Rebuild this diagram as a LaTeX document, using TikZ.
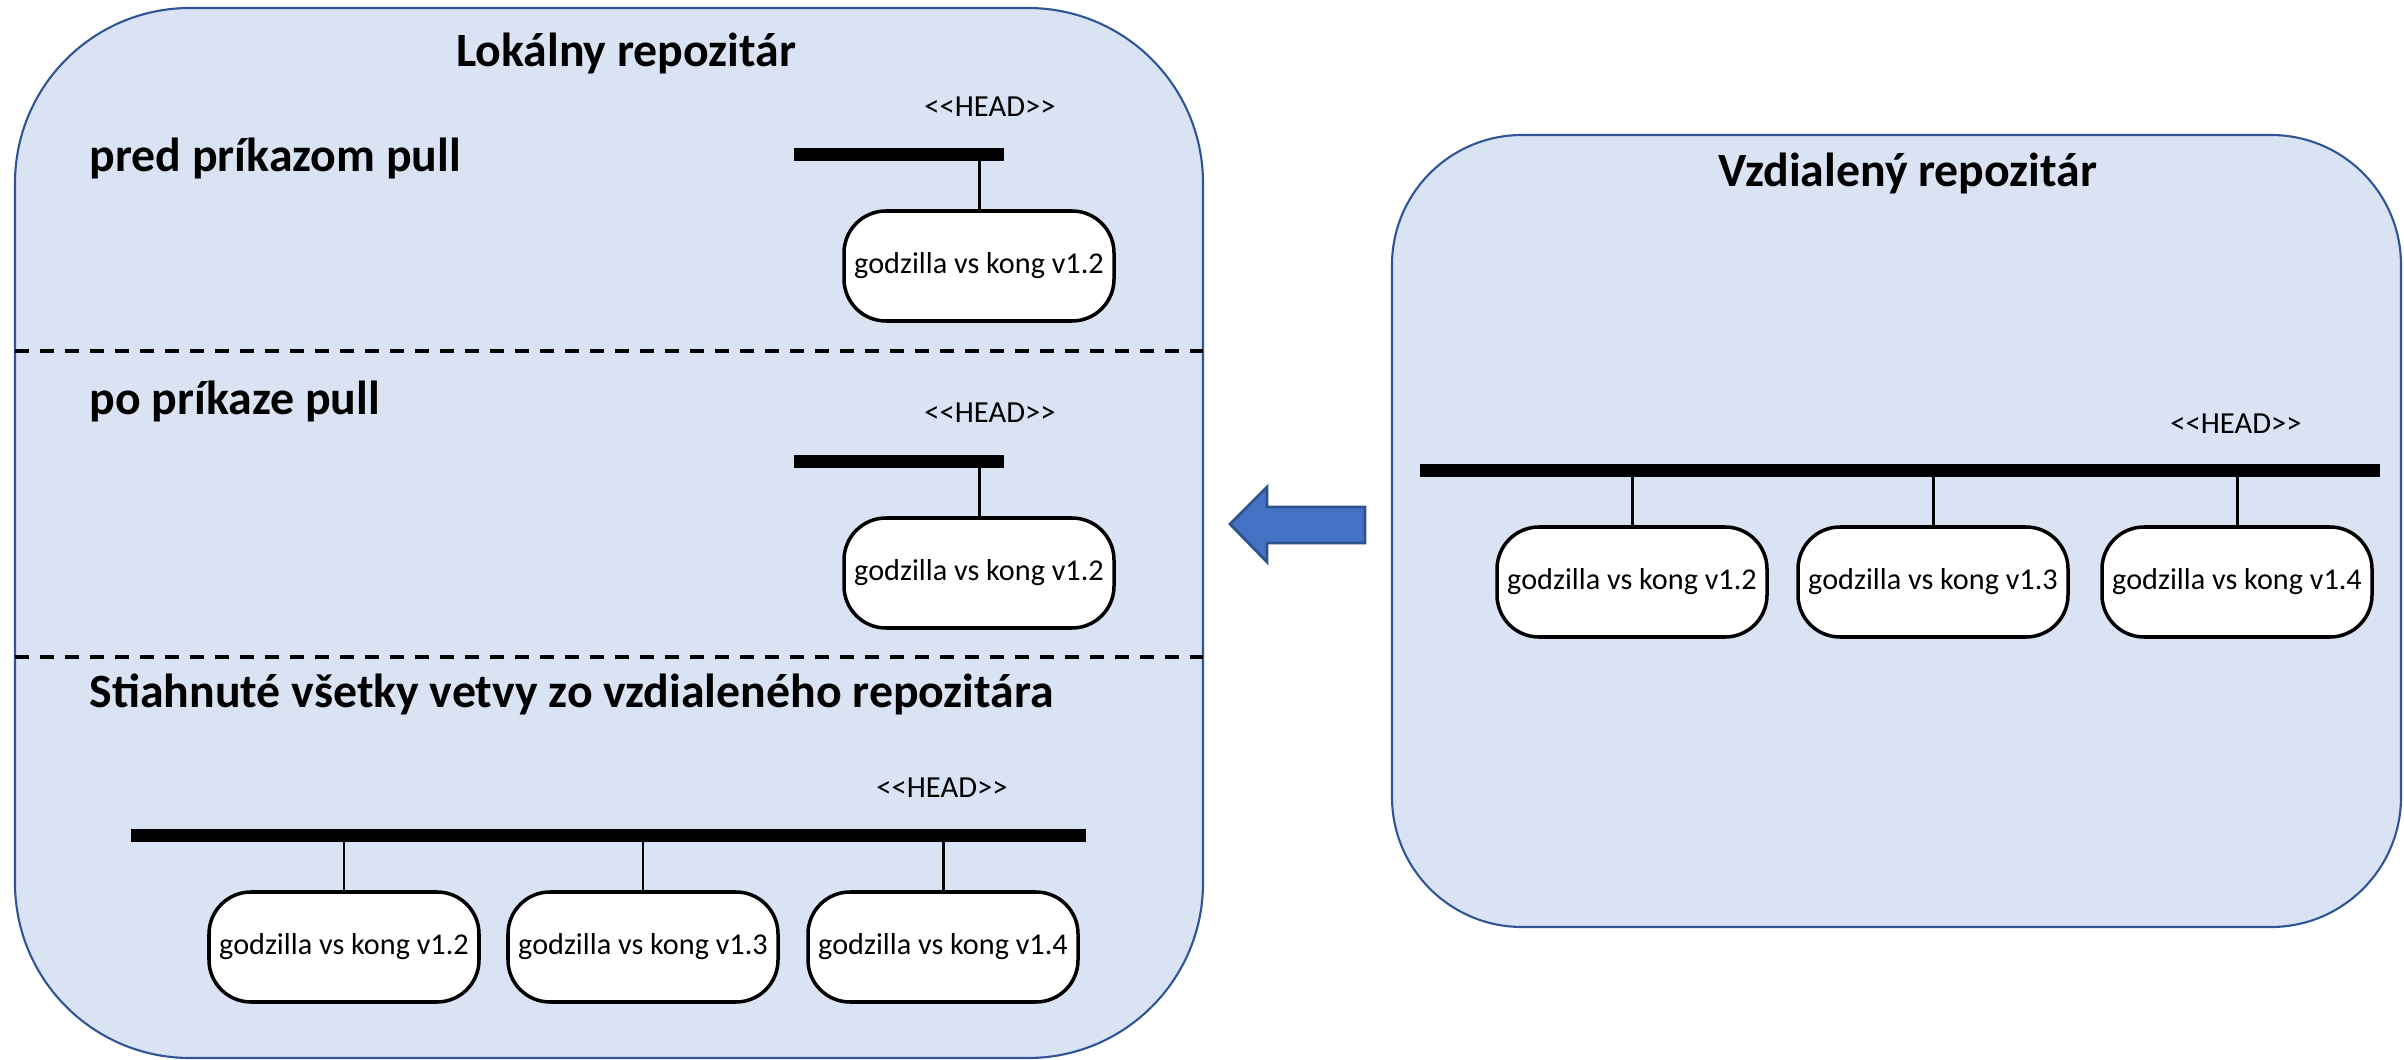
\documentclass[tikz,border=0pt]{standalone}
\usepackage{fontspec}
\setmainfont{Carlito}
\definecolor{repofill}{HTML}{DAE3F3}
\definecolor{repoline}{HTML}{2F5597}
\definecolor{pullfill}{HTML}{4472C4}
\definecolor{pullline}{HTML}{2F528F}

\begin{document}
\begin{tikzpicture}[y=-1cm,
  repo/.style={draw=repoline,fill=repofill,line width=0.6pt},
  sep/.style={draw=black,line width=1.4pt,dash pattern=on 0.14cm off 0.11cm},
  branch/.style={draw=black,line width=0.13cm},
  stem/.style={draw=black,line width=0.85pt},
  commit/.style={draw=black,fill=white,line width=1pt,rounded corners=0.42cm,
    minimum width=2.70cm,minimum height=1.10cm,inner sep=0pt,
    font=\fontsize{8.6}{10}\selectfont},
  title/.style={text=black,anchor=base,inner sep=0pt,
    font=\bfseries\fontsize{13.6}{16}\selectfont},
  head/.style={text=black,anchor=base,font=\fontsize{8.7}{10}\selectfont},
  pullarrow/.style={draw=pullline,fill=pullfill,line width=0.8pt}]

\useasboundingbox (0,0) rectangle (24.04,10.60);

% repositories:
\draw[repo,rounded corners=1.75cm] (0.15,0.08) rectangle (12.03,10.58);
\draw[repo,rounded corners=1.3cm] (13.92,1.35) rectangle (24.01,9.27);
\draw[sep] (0.15,3.51) -- (12.03,3.51);
\draw[sep] (0.15,6.57) -- (12.03,6.57);

% titles:
\path (6.26,0.67) node[title] (loc) {Lokálny repozitár};
\path (19.08,1.87) node[title] (rem) {Vzdialený repozitár};
\path (0.89,1.72) node[title,anchor=base west] (pred) {pred príkazom pull};
\path (0.89,4.15) node[title,anchor=base west] (po) {po príkaze pull};
\path (0.89,7.08) node[title,anchor=base west] (all) {Stiahnuté všetky vetvy zo vzdialeného repozitára};

% HEAD labels:
\path (9.90,1.17) node[head] (head1) {<{}<HEAD>{}>};
\path (9.90,4.23) node[head] (head2) {<{}<HEAD>{}>};
\path (9.42,7.97) node[head] (head3) {<{}<HEAD>{}>};
\path (22.36,4.34) node[head] (head4) {<{}<HEAD>{}>};

% commits:
\path (9.79,2.66) node[commit] (n11) {godzilla vs kong v1.2};
\path (9.79,5.73) node[commit] (n21) {godzilla vs kong v1.2};
\path (3.44,9.47) node[commit] (n31) {godzilla vs kong v1.2};
\path (6.43,9.47) node[commit] (n32) {godzilla vs kong v1.3};
\path (9.43,9.47) node[commit] (n33) {godzilla vs kong v1.4};
\path (16.32,5.82) node[commit] (r1) {godzilla vs kong v1.2};
\path (19.33,5.82) node[commit] (r2) {godzilla vs kong v1.3};
\path (22.37,5.82) node[commit] (r3) {godzilla vs kong v1.4};

% branches:
\coordinate (b1w) at (7.94,1.55);
\coordinate (b1e) at (10.04,1.55);
\coordinate (b2w) at (7.94,4.62);
\coordinate (b2e) at (10.04,4.62);
\coordinate (b3w) at (1.31,8.35);
\coordinate (b3e) at (10.86,8.35);
\coordinate (b4w) at (14.20,4.71);
\coordinate (b4e) at (23.80,4.71);
\draw[branch] (b1w) -- (b1e);
\draw[branch] (b2w) -- (b2e);
\draw[branch] (b3w) -- (b3e);
\draw[branch] (b4w) -- (b4e);
\draw[stem] (n11) -- (n11 |- b1w);
\draw[stem] (n21) -- (n21 |- b2w);
\draw[stem] (n31) -- (n31 |- b3w);
\draw[stem] (n32) -- (n32 |- b3w);
\draw[stem] (n33) -- (n33 |- b3w);
\draw[stem] (r1) -- (r1 |- b4w);
\draw[stem] (r2) -- (r2 |- b4w);
\draw[stem] (r3) -- (r3 |- b4w);

% pull arrow:
\draw[pullarrow] (13.65,5.07) -- (12.67,5.07) -- (12.67,4.87) -- (12.30,5.24)
  -- (12.67,5.62) -- (12.67,5.43) -- (13.65,5.43) -- cycle;

\end{tikzpicture}
\end{document}
